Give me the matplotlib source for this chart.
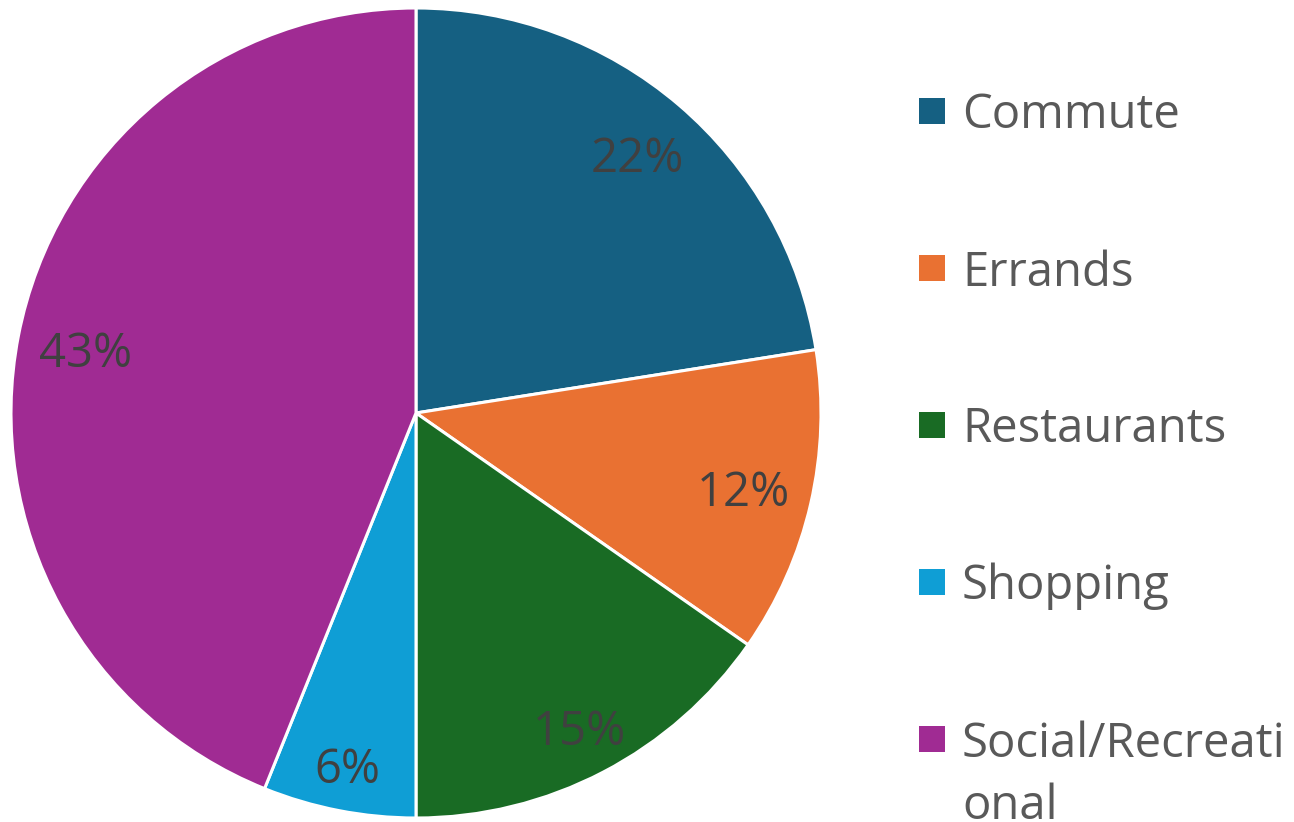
import matplotlib; matplotlib.use("Agg")
import matplotlib.pyplot as plt
from matplotlib.patches import Rectangle
from matplotlib.transforms import ScaledTranslation

plt.rcParams["font.family"] = ["Open Sans", "DejaVu Sans"]

categories = ["Commute", "Errands", "Restaurants", "Shopping", "Social/Recreational"]
legend_text = ["Commute", "Errands", "Restaurants", "Shopping", "Social/Recreati\nonal"]
shares = [22.5, 12.2, 15.3, 6.1, 43.9]
pct_labels = ["22%", "12%", "15%", "6%", "43%"]
colors = ["#156082", "#E97132", "#196B24", "#0F9ED5", "#A02B93"]
label_r = [0.84, 0.83, 0.874, 0.885, 0.83]   # "best fit" placement per slice

W, H = 1294, 822
fig = plt.figure(figsize=(W / 100, H / 100), dpi=100)
ax = fig.add_axes([11 / W, 4 / H, 810 / W, 810 / H])

wedges, texts = ax.pie(shares, labels=pct_labels, colors=colors, startangle=90,
                       counterclock=False, labeldistance=1.0,
                       wedgeprops=dict(edgecolor="white", linewidth=2.2))
for w in wedges:
    w.set_clip_on(False)
nudge = ax.transData + ScaledTranslation(0, -5 / 100, fig.dpi_scale_trans)
for t, r in zip(texts, label_r):
    x, y = t.get_position()
    t.set_position((x * r, y * r))
    t.set_transform(nudge)
    t.set_ha("center"); t.set_va("center")
    t.set_fontsize(34); t.set_color("#404040")
ax.set_xlim(-1, 1); ax.set_ylim(-1, 1)
ax.set_aspect("equal")

# legend drawn by hand so the wrapped last entry keeps its marker on line one
for i, (lab, c) in enumerate(zip(legend_text, colors)):
    yc = 111 + i * 157
    fig.patches.append(Rectangle((919 / W, 1 - (yc + 13) / H), 26 / W, 26 / H,
                                 facecolor=c, transform=fig.transFigure))
    fig.text(962 / W, 1 - (yc - 19) / H, lab, ha="left", va="top",
             fontsize=34, color="#595959", linespacing=1.42)

fig.savefig("out.png", dpi=100)
